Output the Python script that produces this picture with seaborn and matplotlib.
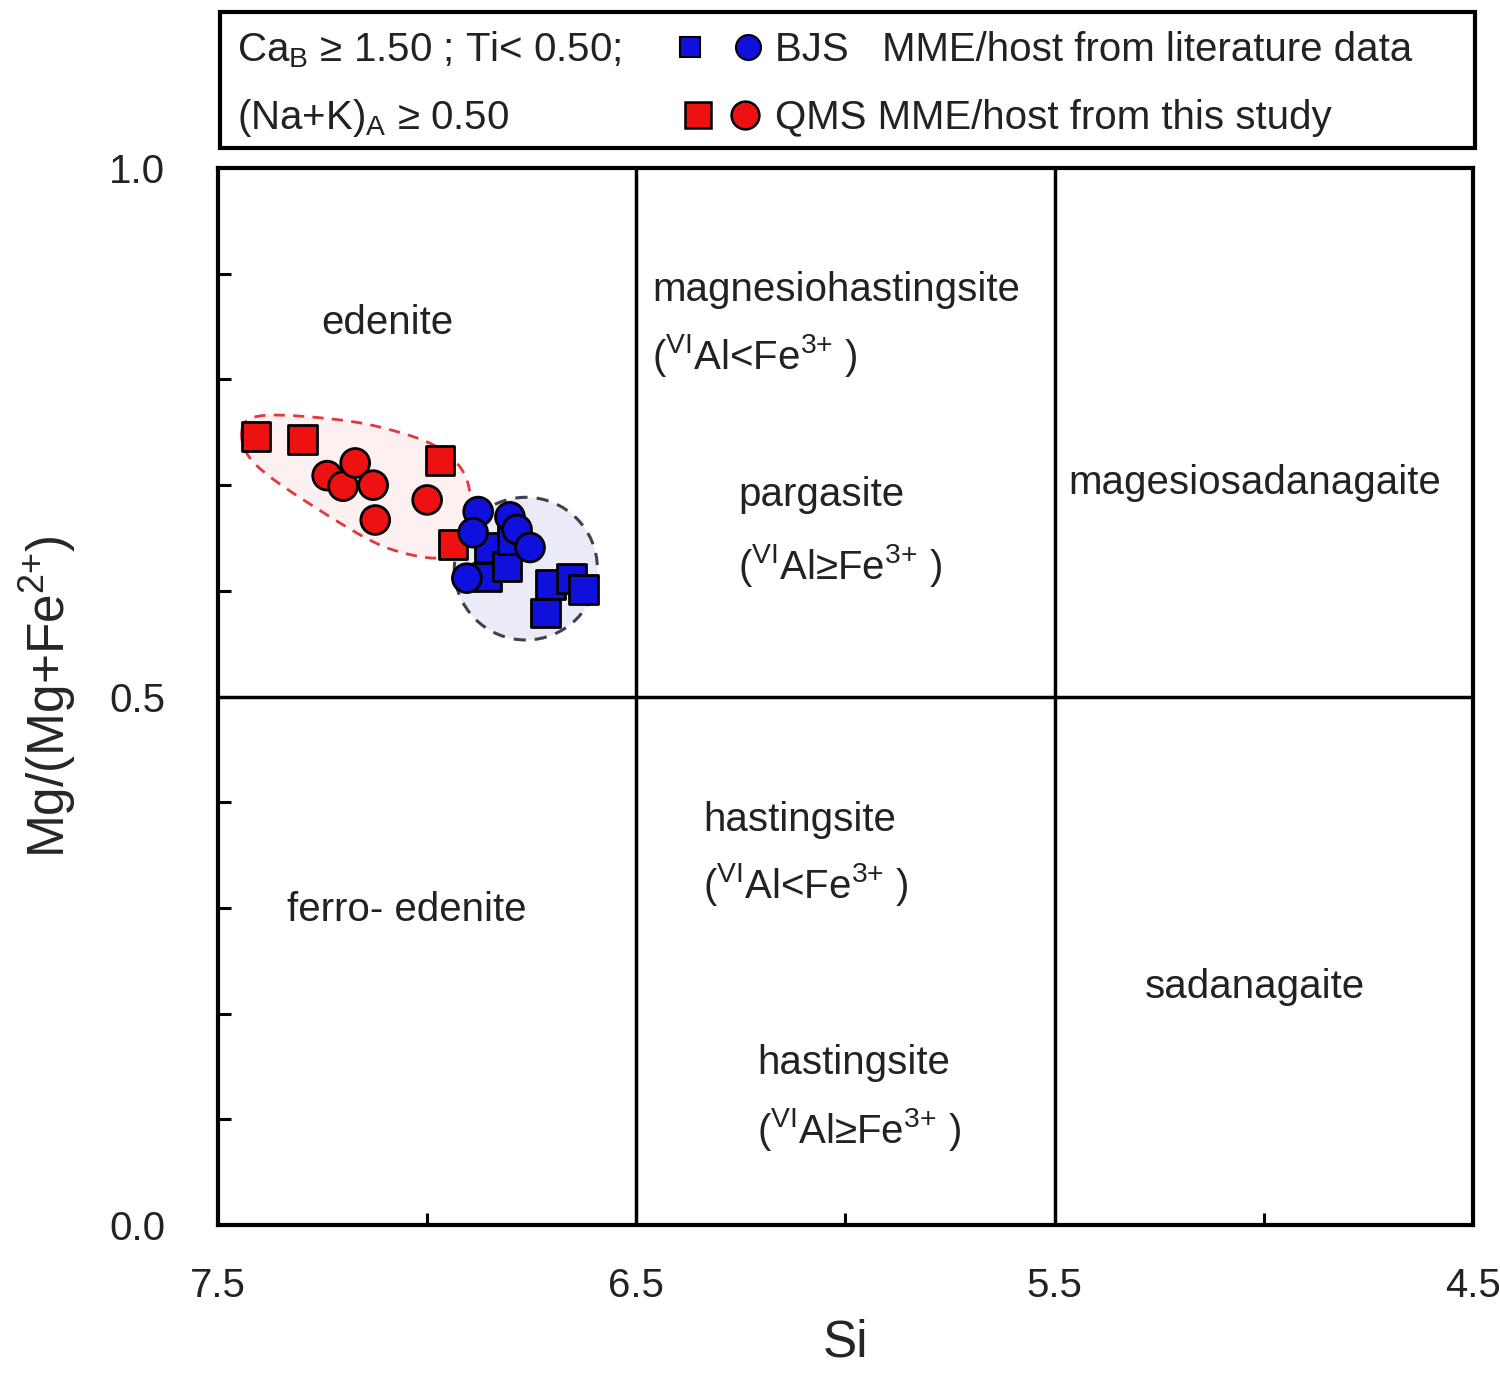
import numpy as np
import pandas as pd
import matplotlib
matplotlib.use("Agg")
import matplotlib.pyplot as plt
from matplotlib.patches import Ellipse, Polygon, Rectangle
from matplotlib.lines import Line2D
import seaborn as sns

# ---------------- data ----------------
qms_mme_si = [7.409, 7.297, 6.969, 6.938]
qms_mme_mg = [0.746, 0.743, 0.723, 0.644]
qms_host_si = [7.239, 7.201, 7.172, 7.129, 7.124, 7.000]
qms_host_mg = [0.709, 0.699, 0.721, 0.700, 0.667, 0.686]
bjs_mme_si = [6.850, 6.857, 6.809, 6.795, 6.706, 6.654, 6.627, 6.718]
bjs_mme_mg = [0.641, 0.613, 0.623, 0.648, 0.606, 0.612, 0.601, 0.579]
bjs_host_si = [6.878, 6.802, 6.785, 6.754, 6.905, 6.890]
bjs_host_mg = [0.675, 0.670, 0.658, 0.641, 0.612, 0.655]

# red field outline (Si, Mg#)
qms_field_si = [7.443, 7.416, 7.335, 7.177, 7.058, 6.976, 6.921, 6.898,
                6.902, 6.921, 6.976, 7.058, 7.137, 7.256, 7.376, 7.431]
qms_field_mg = [0.752, 0.764, 0.766, 0.760, 0.749, 0.736, 0.717, 0.693,
                0.660, 0.639, 0.631, 0.636, 0.648, 0.676, 0.708, 0.730]
# blue field ellipse: centre, width, height
bjs_field = (6.764, 0.621, 0.342, 0.135)

si_bounds = [6.5, 5.5]
mg_bound = 0.5

x_major = [7.5, 6.5, 5.5, 4.5]
x_minor = [7.0, 6.0, 5.0]
y_major = [0.0, 0.5, 1.0]
y_minor = [0.1, 0.2, 0.3, 0.4, 0.6, 0.7, 0.8, 0.9]

rows = []
for si, mg in zip(qms_mme_si, qms_mme_mg):
    rows.append(("QMS", "MME", si, mg))
for si, mg in zip(qms_host_si, qms_host_mg):
    rows.append(("QMS", "host", si, mg))
for si, mg in zip(bjs_mme_si, bjs_mme_mg):
    rows.append(("BJS", "MME", si, mg))
for si, mg in zip(bjs_host_si, bjs_host_mg):
    rows.append(("BJS", "host", si, mg))
df = pd.DataFrame(rows, columns=["group", "type", "Si", "Mg"])

# ---------------- style ----------------
sns.set_theme(style="ticks")
plt.rcParams["font.family"] = ["Liberation Sans", "DejaVu Sans"]
plt.rcParams["mathtext.fontset"] = "custom"
plt.rcParams["mathtext.rm"] = "Liberation Sans"
plt.rcParams["mathtext.it"] = "Liberation Sans:italic"
plt.rcParams["mathtext.bf"] = "Liberation Sans:bold"

RED = "#ee1111"
BLUE = "#1010dd"
FS = 29

fig = plt.figure(figsize=(15, 13.73), dpi=100)
ax = fig.add_axes([0.1453, 0.1078, 0.8367, 0.7698])


def catmull_rom_closed(xs, ys, n=20):
    p = np.column_stack([xs, ys])
    m = len(p)
    out = []
    for i in range(m):
        p0, p1, p2, p3 = p[(i - 1) % m], p[i], p[(i + 1) % m], p[(i + 2) % m]
        t = np.linspace(0, 1, n, endpoint=False)[:, None]
        seg = 0.5 * ((2 * p1) + (-p0 + p2) * t + (2 * p0 - 5 * p1 + 4 * p2 - p3) * t ** 2
                     + (-p0 + 3 * p1 - 3 * p2 + p3) * t ** 3)
        out.append(seg)
    return np.vstack(out)


# fields
outline = catmull_rom_closed(qms_field_si, qms_field_mg)
ax.add_patch(Polygon(outline, closed=True, facecolor="#fdf0f0", edgecolor="none", zorder=1))
ax.add_patch(Ellipse((bjs_field[0], bjs_field[1]), bjs_field[2], bjs_field[3],
                     facecolor="#ebebf7", edgecolor="none", zorder=1))
ax.add_patch(Polygon(outline, closed=True, facecolor="none", edgecolor="#e03a3a",
                     linestyle=(0, (4, 3)), linewidth=2.0, zorder=2))
ax.add_patch(Ellipse((bjs_field[0], bjs_field[1]), bjs_field[2], bjs_field[3],
                     facecolor="none", edgecolor="#404050", linestyle=(0, (4, 3)),
                     linewidth=2.2, zorder=2))

# boundaries
for s in si_bounds:
    ax.axvline(s, color="black", lw=2.5, zorder=0.5)
ax.axhline(mg_bound, color="black", lw=2.5, zorder=0.5)

# points
for grp, col in [("QMS", RED), ("BJS", BLUE)]:
    sub = df[df["group"] == grp]
    sns.scatterplot(data=sub, x="Si", y="Mg", style="type",
                    markers={"MME": "s", "host": "o"}, color=col, s=430,
                    edgecolor="black", linewidth=2, legend=False, ax=ax, zorder=3)

ax.set_xlim(7.5, 4.5)
ax.set_ylim(0, 1)
ax.set_xticks(x_major)
ax.set_xticklabels([f"{v:.1f}" for v in x_major])
ax.set_xticks(x_minor, minor=True)
ax.set_yticks(y_major)
ax.set_yticklabels([f"{v:.1f}" for v in y_major])
ax.set_yticks(y_minor, minor=True)
ax.tick_params(axis="both", which="major", length=0, labelsize=FS, colors="#222222")
ax.tick_params(axis="x", which="major", pad=30)
ax.tick_params(axis="y", which="major", pad=38)
ax.tick_params(axis="both", which="minor", direction="in", length=9, width=2.2, color="black")
for sp in ax.spines.values():
    sp.set_linewidth(3)
    sp.set_color("black")

ax.set_xlabel("Si", fontsize=37, labelpad=10)
ax.set_ylabel(r"Mg/(Mg+Fe$^{\mathrm{2{+}}}$)", fontsize=37, labelpad=22)

# field labels
LT = r"($^{\mathrm{VI}}$Al<Fe$^{\mathrm{3{+}}}$ )"
GE = r"($^{\mathrm{VI}}$Al≥Fe$^{\mathrm{3{+}}}$ )"
tk = dict(fontsize=FS, color="#222222", zorder=4)
ax.text(7.094, 0.853, "edenite", ha="center", va="center", **tk)
ax.text(6.4625, 0.885, "magnesiohastingsite", ha="left", va="center", **tk)
ax.text(6.4625, 0.823, LT, ha="left", va="center", **tk)
ax.text(6.257, 0.691, "pargasite", ha="left", va="center", **tk)
ax.text(6.257, 0.624, GE, ha="left", va="center", **tk)
ax.text(5.021, 0.702, "magesiosadanagaite", ha="center", va="center", **tk)
ax.text(7.048, 0.298, "ferro- edenite", ha="center", va="center", **tk)
ax.text(6.341, 0.383, "hastingsite", ha="left", va="center", **tk)
ax.text(6.341, 0.322, LT, ha="left", va="center", **tk)
ax.text(5.021, 0.225, "sadanagaite", ha="center", va="center", **tk)
ax.text(6.211, 0.153, "hastingsite", ha="left", va="center", **tk)
ax.text(6.211, 0.090, GE, ha="left", va="center", **tk)

# top legend box
fig.add_artist(Rectangle((0.1467, 0.8922), 0.8367, 0.0991, transform=fig.transFigure,
                         facecolor="white", edgecolor="black", linewidth=3))
lt = dict(fontsize=FS, color="#222222", va="center", ha="left")
fig.text(0.158, 0.9636, r"Ca$_{\mathrm{B}}$ ≥ 1.50 ; Ti< 0.50;", **lt)
fig.text(0.158, 0.914, r"(Na+K)$_{\mathrm{A}}$ ≥ 0.50", **lt)
fig.add_artist(Line2D([0.46], [0.9658], marker="s", ms=15, mfc=BLUE, mec="black", mew=1.5,
                      transform=fig.transFigure))
fig.add_artist(Line2D([0.4987], [0.9658], marker="o", ms=18, mfc=BLUE, mec="black", mew=1.5,
                      transform=fig.transFigure))
fig.add_artist(Line2D([0.4653], [0.9162], marker="s", ms=19, mfc=RED, mec="black", mew=1.8,
                      transform=fig.transFigure))
fig.add_artist(Line2D([0.4967], [0.9162], marker="o", ms=20, mfc=RED, mec="black", mew=1.8,
                      transform=fig.transFigure))
fig.text(0.5167, 0.9636, "BJS   MME/host from literature data", **lt)
fig.text(0.5167, 0.914, "QMS MME/host from this study", **lt)

fig.savefig("out.png", dpi=100, facecolor="white")
